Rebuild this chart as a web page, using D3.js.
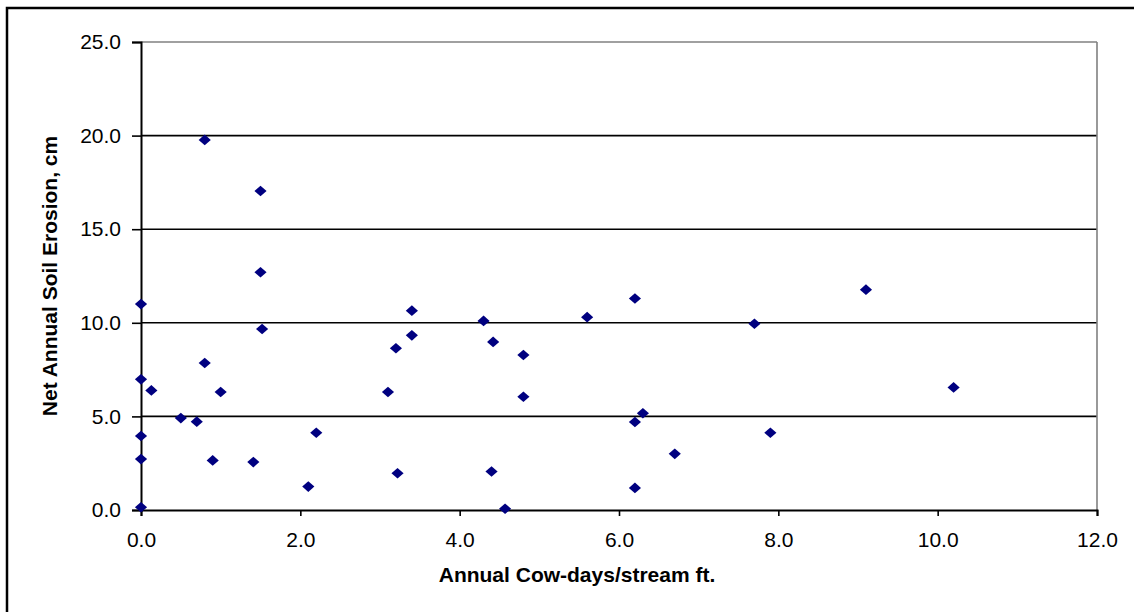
<!DOCTYPE html>
<html>
<head>
<meta charset="utf-8">
<script src="https://cdn.jsdelivr.net/npm/d3@7"></script>
<style>
  body { margin: 0; background: #fff; }
  text { font-family: Arial, "Liberation Sans", sans-serif; }
</style>
</head>
<body>
<svg id="chart" width="1134" height="612"></svg>
<script>
// cow-days per stream ft vs erosion
var cowDays = [0, 0, 0, 0, 0, 0.13, 0.5, 0.7, 0.8, 0.8, 0.9, 1.0, 1.41, 1.5, 1.5, 1.52,
  2.1, 2.2, 3.1, 3.2, 3.22, 3.4, 3.4, 4.3, 4.42, 4.4, 4.57, 4.8, 4.8, 5.6,
  6.2, 6.2, 6.3, 6.2, 6.7, 7.7, 7.9, 9.1, 10.2];
var erosion = [0.15, 2.72, 3.95, 6.98, 11.0, 6.39, 4.91, 4.72, 7.85, 19.77, 2.65, 6.3, 2.56, 17.04, 12.7, 9.67,
  1.25, 4.13, 6.3, 8.64, 1.96, 10.65, 9.33, 10.1, 8.98, 2.06, 0.07, 8.28, 6.05, 10.3,
  11.3, 4.7, 5.17, 1.18, 3.0, 9.95, 4.13, 11.77, 6.55];
var xTicks = [0, 2, 4, 6, 8, 10, 12];
var yTicks = [0, 5, 10, 15, 20, 25];

var svg = d3.select("#chart");
var pLeft = 141, pRight = 1097, pTop = 42, pBottom = 510;
var fs = 21;

var x = d3.scaleLinear().domain([0, 12]).range([pLeft, pRight]);
var y = d3.scaleLinear().domain([0, 25]).range([pBottom, pTop]);

// outer frame
svg.append("rect")
    .attr("x", 7).attr("y", 8)
    .attr("width", 1200).attr("height", 700)
    .attr("fill", "none").attr("stroke", "#000").attr("stroke-width", 2.5);

// gridlines
svg.selectAll("line.grid").data(yTicks.filter((d) => d > 0))
  .enter().append("line")
    .attr("class", "grid")
    .attr("x1", pLeft).attr("x2", pRight)
    .attr("y1", (d) => y(d)).attr("y2", (d) => y(d))
    .attr("stroke", (d) => d == 25 ? "#808080" : "#000")
    .attr("stroke-width", 1.6);

// right border of plot
svg.append("line")
    .attr("x1", pRight).attr("x2", pRight).attr("y1", pTop).attr("y2", pBottom)
    .attr("stroke", "#808080").attr("stroke-width", 1.6);

var xAxis = d3.axisBottom(x).tickValues(xTicks).tickSize(6).tickPadding(16)
    .tickFormat(d3.format(".1f"));
var yAxis = d3.axisLeft(y).tickValues(yTicks).tickSize(9).tickPadding(12)
    .tickFormat(d3.format(".1f"));

var gx = svg.append("g").attr("transform", "translate(0," + pBottom + ")").call(xAxis);
var gy = svg.append("g").attr("transform", "translate(" + pLeft + ",0)").call(yAxis);

[gx, gy].forEach((g) => {
  g.select(".domain").attr("stroke", "#000").attr("stroke-width", 2);
  g.selectAll(".tick line").attr("stroke", "#000").attr("stroke-width", 1.6);
  g.selectAll(".tick text").attr("fill", "#000").style("font-size", fs + "px")
    .style("font-family", "Arial, 'Liberation Sans', sans-serif");
});
gy.selectAll(".tick text").attr("x", -20);

// points
var diamond = d3.symbol().type(d3.symbolDiamond2).size(78);
svg.selectAll("path.pt").data(cowDays)
  .enter().append("path")
    .attr("class", "pt")
    .attr("d", diamond)
    .attr("transform", (d, i) => "translate(" + x(d) + "," + y(erosion[i]) + ") scale(1.1,0.96)")
    .attr("fill", "#000080");

// axis titles
svg.append("text")
    .attr("x", 577).attr("y", 582)
    .attr("text-anchor", "middle")
    .style("font-size", fs + "px").style("font-weight", "bold")
    .text("Annual Cow-days/stream ft.");

svg.append("text")
    .attr("transform", "translate(57,276) rotate(-90)")
    .attr("text-anchor", "middle")
    .style("font-size", fs + "px").style("font-weight", "bold")
    .text("Net Annual Soil Erosion, cm");
</script>
</body>
</html>
